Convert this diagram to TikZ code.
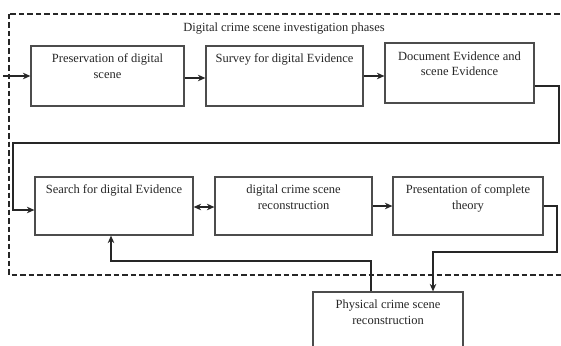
\documentclass[tikz,border=0pt]{standalone}
\usepackage{fontspec}
\setmainfont{Liberation Serif}
\usetikzlibrary{arrows.meta}
\begin{document}
\begin{tikzpicture}[x=1pt,y=-1pt,
  phase/.style={draw=black!70, line width=1.2pt, fill=white, inner sep=0pt, rectangle},
  lbl/.style={font=\fontsize{12.5}{15.5}\selectfont, text=black!85, align=center, inner sep=0pt},
  conn/.style={draw=black!85, line width=1.3pt},
  arr/.style={conn, -{Stealth[length=7.5pt,width=6.5pt]}},
  darr/.style={conn, {Stealth[length=7.5pt,width=6.5pt]}-{Stealth[length=7.5pt,width=6.5pt]}},
  frame/.style={draw=black!85, line width=1.4pt, dash pattern=on 5.5pt off 3pt}]
\useasboundingbox (0,0) rectangle (561,345);
\clip (0,0) rectangle (561,345);
\fill[white] (0,0) rectangle (561,345);

% dashed frame
\draw[frame] (9,14) rectangle (580,275);
\node[lbl] (title) at (284,29) {Digital crime scene investigation phases};

% boxes
\node[phase, minimum width=153pt, minimum height=60pt,
  label={[lbl,anchor=north,yshift=-8.5pt]north:Preservation of digital\\scene}] (B1) at (107.5,76) {};
\node[phase, minimum width=157pt, minimum height=60pt,
  label={[lbl,anchor=north,yshift=-8.5pt]north:Survey for digital Evidence}] (B2) at (284.5,76) {};
\node[phase, minimum width=149pt, minimum height=60pt,
  label={[lbl,anchor=north,yshift=-9pt]north:Document Evidence and\\scene Evidence}] (B3) at (459.5,73) {};
\node[phase, minimum width=158pt, minimum height=58pt,
  label={[lbl,anchor=north,yshift=-8.5pt]north:Search for digital Evidence}] (B4) at (114,206) {};
\node[phase, minimum width=157pt, minimum height=58pt,
  label={[lbl,anchor=north,yshift=-8.5pt]north:digital crime scene\\reconstruction}] (B5) at (293.5,206) {};
\node[phase, minimum width=150pt, minimum height=58pt,
  label={[lbl,anchor=north,yshift=-8.5pt]north:Presentation of complete\\theory}] (B6) at (468,206) {};
\node[phase, minimum width=150pt, minimum height=70pt,
  label={[lbl,anchor=north,yshift=-8.5pt]north:Physical crime scene\\reconstruction}] (B7) at (388,327) {};

% connectors
\coordinate (in) at (3,76);
\coordinate (r1) at (559,143);
\coordinate (l1) at (13,143);
\coordinate (r2) at (557,252);
\coordinate (c1) at (111,261);

\draw[arr] (in) -- (B1.west);
\draw[arr] ([yshift=-2pt]B1.east) -- ([yshift=-2pt]B2.west);
\draw[arr] (B2.east) -- (B2.east -| B3.west);
\draw[arr] ([yshift=-13pt]B3.east) -| (r1) -- (l1) |- ([yshift=-4pt]B4.west);
\draw[darr] ([yshift=-1pt]B4.east) -- ([yshift=-1pt]B5.west);
\draw[arr] (B5.east) -- (B6.west);
\draw[arr] (B6.east) -| (r2) -| ([xshift=45pt]B7.north);
\draw[arr] ([xshift=-17pt]B7.north) |- (c1) -- ([xshift=-3pt]B4.south);
\end{tikzpicture}
\end{document}
